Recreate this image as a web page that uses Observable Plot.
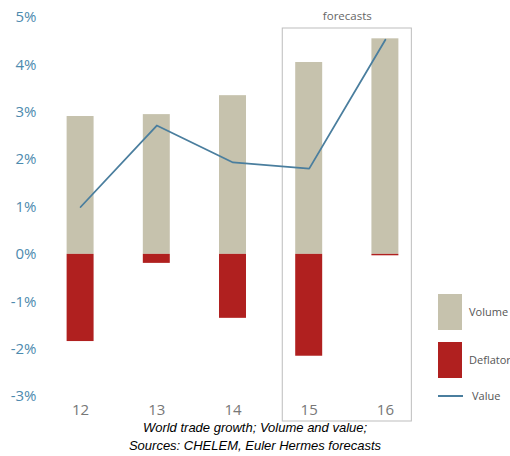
<!DOCTYPE html>
<html>
<head>
<meta charset="utf-8">
<script src="https://cdn.jsdelivr.net/npm/d3@7"></script>
<script src="https://cdn.jsdelivr.net/npm/@observablehq/plot@0.6"></script>
<style>
  body { margin: 0; background: #fff; }
  #wrap { position: relative; width: 510px; }
  .cap { font-family: "Liberation Sans", Arial, sans-serif; font-style: italic; font-size: 13px; line-height: 18px; text-align: center; color: #000; margin-top: -3px; width: 510px; }
  .leg { position: absolute; font-family: "Open Sans", sans-serif; font-size: 11px; color: #555; }
  .sw { position: absolute; }
</style>
</head>
<body>
<div id="wrap"></div>
<script>
const years = [12, 13, 14, 15, 16];
const volume = [2.91, 2.95, 3.35, 4.05, 4.55];
const deflator = [-1.84, -0.19, -1.35, -2.15, -0.03];
const value = [1.0, 2.72, 1.94, 1.81, 4.53];
const forecastYears = [15, 16];
const yTicks = [-3, -2, -1, 0, 1, 2, 3, 4, 5];

const colVolume = "#c6c2ad";
const colDeflator = "#b0201f";
const colValue = "#4a7e9e";

const rows = years.map((y, i) => ({year: y, volume: volume[i], deflator: deflator[i], value: value[i]}));
const half = 0.177;
const yDomain = [d3.min(yTicks), d3.max(yTicks)];

const chart = Plot.plot({
  width: 510,
  height: 422,
  marginLeft: 42,
  marginRight: 87,
  marginTop: 17,
  marginBottom: 26,
  style: {background: "transparent", overflow: "visible"},
  x: {domain: [11.5, 16.5], ticks: years, tickFormat: d => String(d), tickSize: 0, tickPadding: 8, label: null},
  y: {domain: yDomain, ticks: yTicks, tickFormat: d => d + "%", tickSize: 0, tickPadding: 6, label: null},
  marks: [
    Plot.rect([{a: d3.min(forecastYears), b: d3.max(forecastYears)}], {
      x1: d => d.a - half - 0.17, x2: d => d.b + half + 0.17,
      y1: () => yDomain[0], y2: () => yDomain[1],
      insetTop: 11, insetBottom: -25,
      fill: "none", stroke: "#bdbdbd", strokeWidth: 1
    }),
    Plot.text([{a: d3.min(forecastYears), b: d3.max(forecastYears)}], {
      x: d => (d.a + d.b) / 2, y: () => yDomain[1], text: () => "forecasts",
      fill: "#666", fontSize: 11.5, fontFamily: "Open Sans", dy: -1
    }),
    Plot.rectY(rows, {x1: d => d.year - half, x2: d => d.year + half, y1: 0, y2: "volume", fill: colVolume}),
    Plot.rectY(rows, {x1: d => d.year - half, x2: d => d.year + half, y1: 0, y2: "deflator", fill: colDeflator}),
    Plot.line(rows, {x: "year", y: "value", stroke: colValue, strokeWidth: 1.8}),
    Plot.axisY({ticks: yTicks, tickFormat: d => d + "%", tickSize: 0, tickPadding: 6, fontSize: 15, fontFamily: "Open Sans", fill: "#4d8aae"}),
    Plot.axisX({ticks: years, tickFormat: d => String(d), tickSize: 0, tickPadding: 8, fontSize: 15, fontFamily: "Open Sans", fill: "#777"})
  ]
});

const wrap = document.getElementById("wrap");
wrap.appendChild(chart);

// legend
const legend = [
  {label: "Volume", color: colVolume, type: "box", top: 294},
  {label: "Deflator", color: colDeflator, type: "box", top: 342},
  {label: "Value", color: colValue, type: "line", top: 395}
];
legend.forEach(l => {
  const sw = document.createElement("div");
  sw.className = "sw";
  if (l.type === "box") {
    Object.assign(sw.style, {left: "438px", top: l.top + "px", width: "24px", height: "36px", background: l.color});
  } else {
    Object.assign(sw.style, {left: "438px", top: l.top + "px", width: "25px", height: "2px", background: l.color});
  }
  wrap.appendChild(sw);
  const t = document.createElement("div");
  t.className = "leg";
  t.textContent = l.label;
  const cy = l.type === "box" ? l.top + 18 : l.top + 1;
  Object.assign(t.style, {left: (l.type === "box" ? 469 : 472) + "px", top: (cy - 8) + "px", lineHeight: "16px", whiteSpace: "nowrap"});
  wrap.appendChild(t);
});

const cap = document.createElement("div");
cap.className = "cap";
cap.innerHTML = "World trade growth; Volume and value;<br>Sources: CHELEM, Euler Hermes forecasts";
document.body.appendChild(cap);
</script>
</body>
</html>
